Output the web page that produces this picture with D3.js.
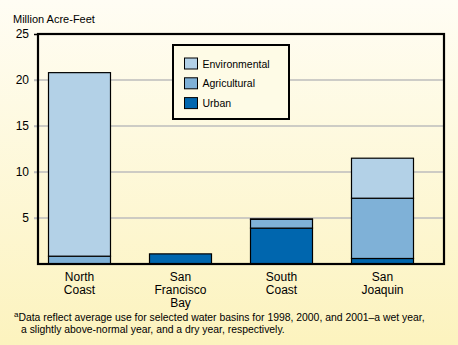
<!DOCTYPE html>
<html>
<head>
<meta charset="utf-8">
<script src="https://cdn.jsdelivr.net/npm/d3@7"></script>
<style>
  html, body { margin: 0; padding: 0; }
  body { width: 458px; height: 345px; overflow: hidden; }
  text { font-family: "Liberation Sans", Arial, sans-serif; fill: #000; }
</style>
</head>
<body>
<svg id="chart" width="458" height="345"></svg>
<script>
// basins and their use, million acre-feet
const basins = ["North Coast", "San Francisco Bay", "South Coast", "San Joaquin"];
const basinLines = [["North", "Coast"], ["San", "Francisco", "Bay"], ["South", "Coast"], ["San", "Joaquin"]];
const urban = [0, 1.1, 3.9, 0.6];
const agricultural = [0.85, 0, 0.95, 6.55];
const environmental = [19.95, 0, 0.05, 4.35];
const yTicks = [5, 10, 15, 20, 25];
const seriesNames = ["Urban", "Agricultural", "Environmental"];
const legendOrder = ["Environmental", "Agricultural", "Urban"];

const colors = { Urban: "#0066ae", Agricultural: "#7fb1d7", Environmental: "#b3d1e7" };

const svg = d3.select("#chart");

// cream background, lighter at the top
const defs = svg.append("defs");
const grad = defs.append("linearGradient").attr("id", "bg")
  .attr("x1", 0).attr("y1", 0).attr("x2", 0).attr("y2", 1);
grad.append("stop").attr("offset", "0%").attr("stop-color", "#fffdf4");
grad.append("stop").attr("offset", "100%").attr("stop-color", "#fcf3be");
svg.append("rect").attr("width", 458).attr("height", 345).attr("fill", "url(#bg)");

const plotL = 38, plotR = 444, plotT = 34, plotB = 264;

const y = d3.scaleLinear().domain([0, 25]).range([plotB, plotT]);
const x = d3.scalePoint().domain(basins).range([79.5, 382.5]);
const barW = 62;

// grid
svg.append("g").selectAll("line").data(yTicks.filter(d => d < 25)).join("line")
  .attr("x1", plotL - 4).attr("x2", plotR)
  .attr("y1", d => y(d)).attr("y2", d => y(d))
  .attr("stroke", "#bdbdbd").attr("stroke-width", 1.5);

// y axis labels
const yAxis = svg.append("g").attr("transform", `translate(${plotL},0)`)
  .call(d3.axisLeft(y).tickValues(yTicks).tickSize(4).tickPadding(5));
yAxis.select(".domain").remove();
yAxis.selectAll("line").attr("stroke", "#bdbdbd").attr("stroke-width", 1.5);
yAxis.selectAll("text").style("font-size", "12px")
  .style("font-family", "'Liberation Sans', Arial, sans-serif");
yAxis.selectAll(".tick").filter(d => d === 25).select("line").attr("stroke", "#000");

// stacked bars
const rows = basins.map((b, i) => ({ basin: b, Urban: urban[i], Agricultural: agricultural[i], Environmental: environmental[i] }));
const stack = d3.stack().keys(seriesNames)(rows);
svg.append("g").selectAll("g").data(stack).join("g")
  .attr("fill", d => colors[d.key])
  .selectAll("rect").data(d => d.filter(s => s[1] - s[0] > 0)).join("rect")
  .attr("x", d => x(d.data.basin) - barW / 2)
  .attr("width", barW)
  .attr("y", d => y(d[1]))
  .attr("height", d => y(d[0]) - y(d[1]))
  .attr("stroke", "#000").attr("stroke-width", 1.2);

// frame
svg.append("rect").attr("x", plotL).attr("y", plotT)
  .attr("width", plotR - plotL).attr("height", plotB - plotT)
  .attr("fill", "none").attr("stroke", "#000").attr("stroke-width", 2.2);

// x labels
const xl = svg.append("g").selectAll("text").data(basins).join("text")
  .attr("text-anchor", "middle").style("font-size", "12px")
  .attr("x", d => x(d)).attr("y", 280.5);
xl.selectAll("tspan").data((d, i) => basinLines[i]).join("tspan")
  .attr("x", function () { return this.parentNode.getAttribute("x"); })
  .attr("dy", (d, i) => i === 0 ? 0 : 13.3)
  .text(d => d);

// y title
svg.append("text").attr("x", 13).attr("y", 23).style("font-size", "11px").text("Million Acre-Feet");

// legend
const lg = svg.append("g");
lg.append("rect").attr("x", 173).attr("y", 45).attr("width", 116).attr("height", 74)
  .attr("fill", "#fefbe6").attr("stroke", "#000").attr("stroke-width", 2);
const items = lg.selectAll("g.item").data(legendOrder).join("g")
  .attr("transform", (d, i) => `translate(184.5,${58 + i * 19.8})`);
items.append("rect").attr("width", 13).attr("height", 11)
  .attr("fill", d => colors[d]).attr("stroke", "#000").attr("stroke-width", 1);
items.append("text").attr("x", 18).attr("y", 9.5).style("font-size", "10.5px").text(d => d);

// footnote
const fn = svg.append("text").attr("x", 14).attr("y", 320.5).style("font-size", "10.4px");
fn.append("tspan").attr("dy", -4).style("font-size", "8px").text("a");
fn.append("tspan").attr("dy", 4)
  .text("Data reflect average use for selected water basins for 1998, 2000, and 2001\u2013a wet year,");
svg.append("text").attr("x", 21).attr("y", 332.5).style("font-size", "10.4px")
  .text("a slightly above-normal year, and a dry year, respectively.");
</script>
</body>
</html>
